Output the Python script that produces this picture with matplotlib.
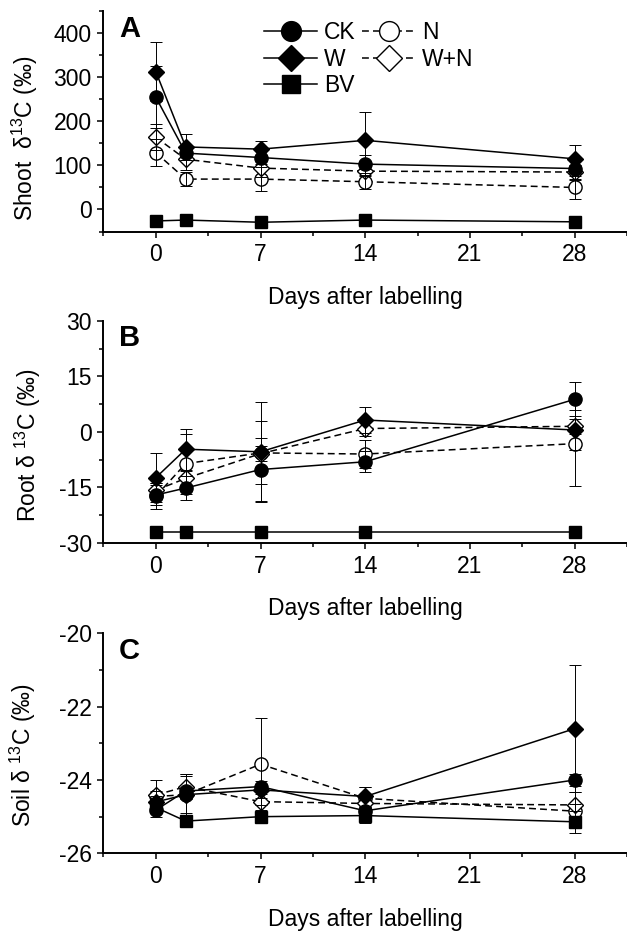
import matplotlib
matplotlib.use('Agg')
import matplotlib.pyplot as plt
from matplotlib.lines import Line2D
from matplotlib.ticker import MultipleLocator

# Days after labelling
days = [0, 2, 7, 14, 28]

# Shoot d13C (per mil)
shoot_ck = [255, 128, 118, 103, 93]
shoot_n = [129, 69, 69, 63, 50]
shoot_w = [313, 142, 137, 157, 115]
shoot_wn = [164, 114, 94, 87, 85]
shoot_bv = [-26, -24, -29, -24, -28]
shoot_ck_err = [70, 15, 15, 20, 27]
shoot_n_err = [30, 16, 27, 16, 27]
shoot_w_err = [67, 30, 18, 64, 32]
shoot_wn_err = [29, 25, 20, 12, 15]
shoot_bv_err = [3, 3, 3, 3, 3]

# Root d13C
root_ck = [-17.1, -15.2, -10.2, -8.1, 8.8]
root_n = [-17.4, -8.6, -5.7, -6.0, -3.2]
root_w = [-12.4, -4.7, -5.4, 3.2, 0.5]
root_wn = [-15.8, -12.6, -5.9, 0.9, 1.5]
root_bv = [-27.1, -27.1, -27.1, -27.1, -27.1]
root_ck_err = [2.8, 3.3, 8.5, 2.9, 4.6]
root_n_err = [3.5, 8.1, 8.5, 3.7, 11.4]
root_w_err = [6.7, 5.6, 13.5, 3.4, 5.4]
root_wn_err = [2.0, 2.0, 2.0, 2.0, 2.0]
root_bv_err = [0.3, 0.3, 0.3, 0.3, 0.3]

# Soil d13C
soil_ck = [-24.82, -24.3, -24.18, -24.84, -24.0]
soil_n = [-24.45, -24.4, -23.57, -24.5, -24.85]
soil_w = [-24.6, -24.4, -24.27, -24.45, -22.6]
soil_wn = [-24.41, -24.18, -24.59, -24.64, -24.68]
soil_bv = [-24.75, -25.12, -25.0, -24.97, -25.14]
soil_ck_err = [0.2, 0.1, 0.15, 0.1, 0.16]
soil_n_err = [0.45, 0.55, 1.25, 0.3, 0.2]
soil_w_err = [0.15, 0.5, 0.1, 0.25, 1.74]
soil_wn_err = [0.1, 0.35, 0.1, 0.1, 0.35]
soil_bv_err = [0.1, 0.1, 0.1, 0.2, 0.3]

plt.rcParams['font.family'] = 'Liberation Sans'
plt.rcParams['mathtext.fontset'] = 'custom'
plt.rcParams['mathtext.rm'] = 'Liberation Sans'
plt.rcParams['mathtext.it'] = 'Liberation Sans:italic'
plt.rcParams['mathtext.bf'] = 'Liberation Sans:bold'
plt.rcParams['axes.unicode_minus'] = False

fs = 16.5
dashed = (0, (4.5, 2.7))
styles = {
    'CK': dict(marker='o', mfc='black', ls='-', ms=9.5),
    'N': dict(marker='o', mfc='white', ls=dashed, ms=9.5),
    'W': dict(marker='D', mfc='black', ls='-', ms=8.5),
    'W+N': dict(marker='D', mfc='white', ls=dashed, ms=8.5),
    'BV': dict(marker='s', mfc='black', ls='-', ms=8.5),
}
draw_order = ['N', 'W+N', 'CK', 'W', 'BV']

panels = [
    dict(letter='A', ylabel='Shoot  δ$^{13}$C (‰)', ylim=(-50, 450), major=100, minor=50,
         rect=[0.165, 0.7516, 0.835, 0.2363], lab=(-0.121, 0.425),
         vals={'CK': shoot_ck, 'N': shoot_n, 'W': shoot_w, 'W+N': shoot_wn, 'BV': shoot_bv},
         errs={'CK': shoot_ck_err, 'N': shoot_n_err, 'W': shoot_w_err, 'W+N': shoot_wn_err, 'BV': shoot_bv_err}),
    dict(letter='B', ylabel='Root δ $^{13}$C (‰)', ylim=(-30, 30), major=15, minor=7.5,
         rect=[0.165, 0.4177, 0.835, 0.2379], lab=(-0.115, 0.44),
         vals={'CK': root_ck, 'N': root_n, 'W': root_w, 'W+N': root_wn, 'BV': root_bv},
         errs={'CK': root_ck_err, 'N': root_n_err, 'W': root_w_err, 'W+N': root_wn_err, 'BV': root_bv_err}),
    dict(letter='C', ylabel='Soil δ $^{13}$C (‰)', ylim=(-26, -20), major=2, minor=1,
         rect=[0.165, 0.0844, 0.835, 0.2361], lab=(-0.125, 0.447),
         vals={'CK': soil_ck, 'N': soil_n, 'W': soil_w, 'W+N': soil_wn, 'BV': soil_bv},
         errs={'CK': soil_ck_err, 'N': soil_n_err, 'W': soil_w_err, 'W+N': soil_wn_err, 'BV': soil_bv_err}),
]

fig = plt.figure(figsize=(6.27, 9.32), dpi=100)

for p in panels:
    ax = fig.add_axes(p['rect'])
    for name in draw_order:
        st = styles[name]
        ax.plot(days, p['vals'][name], color='black', lw=1.1, ls=st['ls'],
                marker=st['marker'], ms=st['ms'], mfc=st['mfc'], mec='black', mew=1.0, zorder=3)
        # error bars drawn over the markers, as in the original
        ax.errorbar(days, p['vals'][name], yerr=p['errs'][name], fmt='none', ecolor='black',
                    elinewidth=0.7, capsize=4.5, capthick=0.7, zorder=4)

    ax.set_xlim(-3.5, 31.4)
    ax.set_ylim(*p['ylim'])
    ax.set_xticks([0, 7, 14, 21, 28])
    ax.set_xticks([-3.5, 3.5, 10.5, 17.5, 24.5, 31.5], minor=True)
    ax.yaxis.set_major_locator(MultipleLocator(p['major']))
    ax.yaxis.set_minor_locator(MultipleLocator(p['minor']))
    ax.spines['top'].set_visible(False)
    ax.spines['right'].set_visible(False)
    ax.spines['left'].set_linewidth(1.4)
    ax.spines['bottom'].set_linewidth(1.4)
    ax.tick_params(which='major', direction='out', length=4.5, width=1.1, labelsize=fs, pad=4)
    ax.tick_params(which='minor', direction='out', length=3, width=1.1)
    ax.set_xlabel('Days after labelling', fontsize=fs, labelpad=14)
    ax.set_ylabel(p['ylabel'], fontsize=fs)
    ax.yaxis.set_label_coords(*p['lab'])
    ax.text(0.03, 0.985, p['letter'], transform=ax.transAxes, fontsize=21,
            fontweight='bold', va='top', ha='left')

    if p['letter'] == 'A':
        handles = []
        labels = []
        for name in ['CK', 'W', 'BV', 'N', 'W+N']:
            st = styles[name]
            handles.append(Line2D([], [], color='black', lw=1.1, ls=st['ls'], marker=st['marker'],
                                  ms=st['ms'] * 1.5, mfc=st['mfc'], mec='black', mew=1.0))
            labels.append(name)
        ax.legend(handles, labels, ncol=2, loc='upper left', bbox_to_anchor=(0.307, 0.955),
                  frameon=False, fontsize=fs, borderpad=0, borderaxespad=0,
                  handlelength=2.3, handletextpad=0.3, columnspacing=0.3, labelspacing=0.15)

fig.savefig('out.png', dpi=100)
